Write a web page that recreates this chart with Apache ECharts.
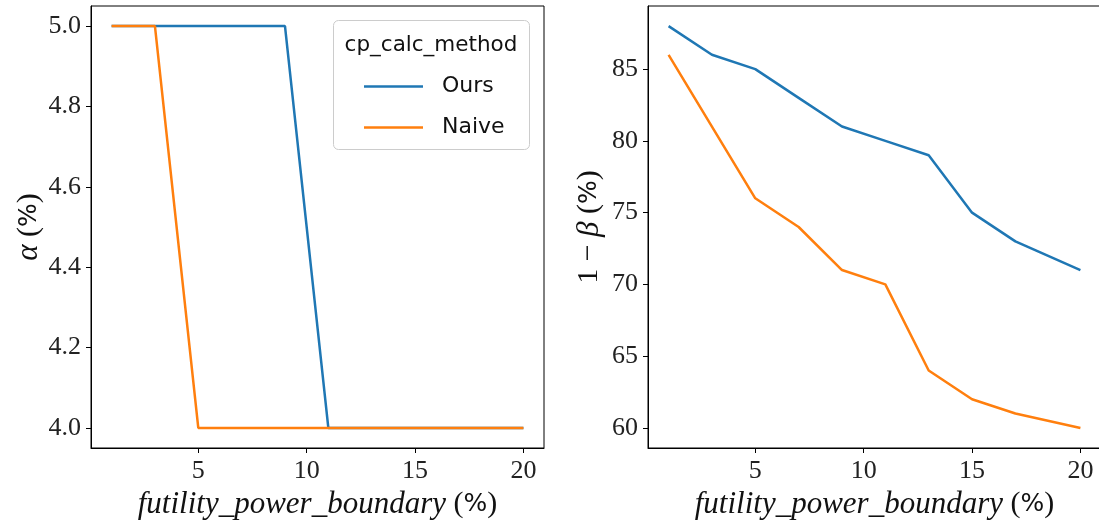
<!DOCTYPE html>
<html><head><meta charset="utf-8">
<script src="https://cdn.jsdelivr.net/npm/echarts@6/dist/echarts.min.js"></script>
<style>html,body{margin:0;padding:0;background:#fff}#c{width:1099px;height:523px}</style>
</head><body><div id="c"></div>
<script>
const xVals = [1, 3, 5, 7, 9, 11, 13, 15, 17, 20];
const alphaOurs = [5, 5, 5, 5, 5, 4, 4, 4, 4, 4];
const alphaNaive = [5, 5, 4, 4, 4, 4, 4, 4, 4, 4];
const powerOurs = [88, 86, 85, 83, 81, 80, 79, 75, 73, 71];
const powerNaive = [86, 81, 76, 74, 71, 70, 64, 62, 61, 60];
const xTicks = [5, 10, 15, 20];
const alphaTicks = [4.0, 4.2, 4.4, 4.6, 4.8, 5.0];
const powerTicks = [60, 65, 70, 75, 80, 85];
const seriesNames = ['Ours', 'Naive'];
const legendTitle = 'cp_calc_method';

const chart = echarts.init(document.getElementById('c'), null, {renderer: 'canvas'});
const BLUE = '#1f77b4', ORANGE = '#ff7f0e';
const serif = 'Liberation Serif';
const tickFont = {fontFamily: serif, fontSize: 26, color: '#222'};
const rich = {
  it: {fontFamily: serif, fontStyle: 'italic', fontSize: 31, color: '#111'},
  n: {fontFamily: serif, fontSize: 30, color: '#111'},
  s: {fontFamily: 'DejaVu Sans', fontSize: 25, color: '#111'}
};
function xAxis(gi) {
  return {
    type: 'value', gridIndex: gi, min: 0.05, max: 20.95,
    name: '{it|futility_power_boundary}{n| (}{s|%}{n|)}', nameLocation: 'middle', nameGap: 38,
    nameTextStyle: {rich: rich},
    axisLine: {show: true, lineStyle: {color: '#000', width: 1}},
    axisTick: {show: true, length: 5, lineStyle: {color: '#000'}, customValues: xTicks},
    axisLabel: Object.assign({margin: 10, customValues: xTicks}, tickFont),
    splitLine: {show: false}
  };
}
function yAxis(gi, min, max, ticks, name, gap, dec) {
  return {
    type: 'value', gridIndex: gi, min: min, max: max,
    name: name, nameLocation: 'middle', nameGap: gap, nameRotate: 90,
    nameTextStyle: {rich: rich},
    axisLine: {show: true, lineStyle: {color: '#000', width: 1}},
    axisTick: {show: true, length: 5, lineStyle: {color: '#000'}, customValues: ticks},
    axisLabel: Object.assign({margin: 10, customValues: ticks, formatter: v => v.toFixed(dec)}, tickFont),
    splitLine: {show: false}
  };
}
function line(name, xi, vals, color) {
  return {
    name: name, type: 'line', xAxisIndex: xi, yAxisIndex: xi,
    data: xVals.map((x, i) => [x, vals[i]]),
    symbol: 'none', showSymbol: false, animation: false,
    lineStyle: {color: color, width: 2.5}, itemStyle: {color: color}
  };
}
chart.setOption({
  animation: false,
  backgroundColor: '#fff',
  grid: [
    {left: 91, top: 6, width: 453, height: 442, outerBoundsMode: 'none', containLabel: false, show: true, borderColor: '#000', borderWidth: 1, backgroundColor: 'transparent'},
    {left: 648, top: 6, width: 453, height: 442, outerBoundsMode: 'none', containLabel: false, show: true, borderColor: '#000', borderWidth: 1, backgroundColor: 'transparent'}
  ],
  xAxis: [xAxis(0), xAxis(1)],
  yAxis: [
    yAxis(0, 3.95, 5.05, alphaTicks, '{it|α}{n| (}{s|%}{n|)}', 46, 1),
    yAxis(1, 58.6, 89.4, powerTicks, '{n|1 − }{it|β}{n| (}{s|%}{n|)}', 43, 0)
  ],
  graphic: [
    {type: 'rect', z: 50, shape: {x: 333.5, y: 20.5, width: 196, height: 129, r: 5},
     style: {fill: 'rgba(255,255,255,0.85)', stroke: '#cccccc', lineWidth: 1}},
    {type: 'text', z: 51, style: {x: 431, y: 45, text: legendTitle, fontFamily: 'DejaVu Sans', fontSize: 21.5,
      fill: '#111', align: 'center', verticalAlign: 'middle'}}
  ],
  legend: {
    z: 52, left: 359, top: 69, orient: 'vertical', icon: 'rect', itemWidth: 59, itemHeight: 2.5,
    itemGap: 16, data: seriesNames,
    textStyle: {fontFamily: 'DejaVu Sans', fontSize: 22, color: '#111', lineHeight: 25, padding: [0, 0, 0, 14]}
  },
  series: [
    line(seriesNames[0], 0, alphaOurs, BLUE),
    line(seriesNames[1], 0, alphaNaive, ORANGE),
    line(seriesNames[0], 1, powerOurs, BLUE),
    line(seriesNames[1], 1, powerNaive, ORANGE)
  ]
});
</script></body></html>
